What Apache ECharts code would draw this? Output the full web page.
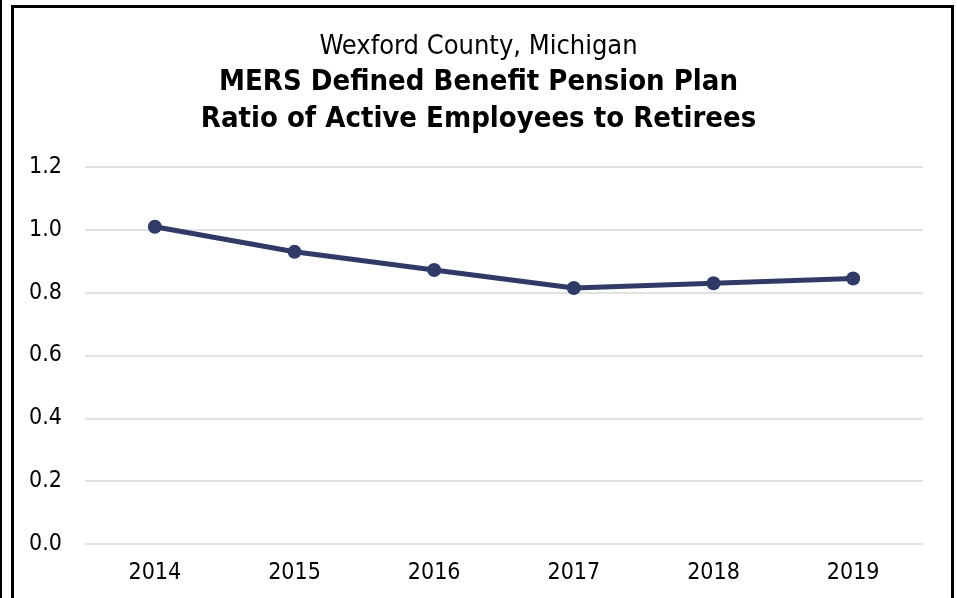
<!DOCTYPE html>
<html>
<head>
<meta charset="utf-8">
<script src="https://cdn.jsdelivr.net/npm/echarts@6/dist/echarts.min.js"></script>
<style>
  html, body { margin: 0; padding: 0; background: #fff; }
  #edge { position: absolute; left: 0; top: 0; width: 2px; height: 598px; background: #000; }
  #box { position: absolute; left: 11px; top: 5px; width: 943px; height: 600px;
         border: 3px solid #000; border-bottom: none; box-sizing: border-box; }
  #chart { position: absolute; left: 0; top: 0; width: 957px; height: 598px; }
</style>
</head>
<body>
<div id="edge"></div>
<div id="box"></div>
<div id="chart"></div>
<script>
// 数据
const years = ['2014', '2015', '2016', '2017', '2018', '2019'];
const ratios = [1.01, 0.93, 0.872, 0.815, 0.83, 0.845];
const titleLines = ['Wexford County, Michigan', 'MERS Defined Benefit Pension Plan', 'Ratio of Active Employees to Retirees'];

const fontFamily = '"DejaVu Sans Condensed", "DejaVu Sans", sans-serif';
const lineColor = '#2F3B66';

const myChart = echarts.init(document.getElementById('chart'));
const option = {
    backgroundColor: 'transparent',
    animation: false,
    title: [
        {
            text: titleLines[0],
            left: 'center', top: 28,
            textStyle: { fontFamily, fontSize: 27, fontWeight: 'normal', color: '#000' }
        },
        {
            text: titleLines[1] + '\n' + titleLines[2],
            left: 'center', top: 59,
            textStyle: { fontFamily, fontSize: 29, fontWeight: 'bold', color: '#000', lineHeight: 37 }
        }
    ],
    grid: { left: 85, right: 34, top: 167, bottom: 54 },
    xAxis: {
        type: 'category',
        data: years,
        boundaryGap: true,
        axisLine: { show: false },
        axisTick: { show: false },
        axisLabel: { fontFamily, fontSize: 23, color: '#000', margin: 18 }
    },
    yAxis: {
        type: 'value',
        min: 0, max: 1.2, interval: 0.2,
        axisLine: { show: false },
        axisTick: { show: false },
        splitLine: { lineStyle: { color: '#D9D9D9', width: 1.5 } },
        axisLabel: {
            fontFamily, fontSize: 23, color: '#000', margin: 23,
            formatter: v => v.toFixed(1)
        }
    },
    series: [{
        type: 'line',
        data: ratios,
        symbol: 'circle',
        symbolSize: 14,
        lineStyle: { color: lineColor, width: 5 },
        itemStyle: { color: lineColor }
    }]
};
myChart.setOption(option);
</script>
</body>
</html>
